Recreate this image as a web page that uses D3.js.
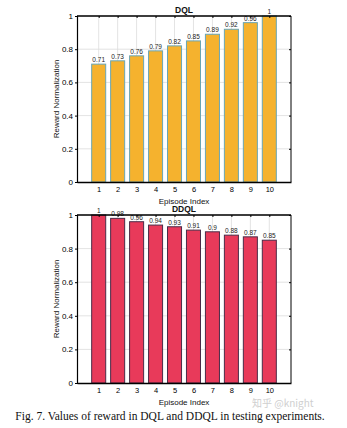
<!DOCTYPE html>
<html>
<head>
<meta charset="utf-8">
<script src="https://cdn.jsdelivr.net/npm/d3@7"></script>
<style>
  html, body { margin: 0; padding: 0; background: #fff; }
  svg { display: block; }
</style>
</head>
<body>
<script>
// Episode indices and normalized reward per method
const episodes = [1, 2, 3, 4, 5, 6, 7, 8, 9, 10];
const dqlValues = [0.71, 0.73, 0.76, 0.79, 0.82, 0.85, 0.89, 0.92, 0.96, 1];
const ddqlValues = [1, 0.98, 0.96, 0.94, 0.93, 0.91, 0.9, 0.88, 0.87, 0.85];
const yTicks = [0, 0.2, 0.4, 0.6, 0.8, 1];

const W = 347, H = 428;
const svg = d3.select("body").append("svg").attr("width", W).attr("height", H);
const font = "'Liberation Sans', Arial, sans-serif";

function panel(opts) {
  const { top, bottom, left, right, values, title, fill, stroke } = opts;
  const x = d3.scaleLinear().domain([-0.144, 11.144]).range([left, right]);
  const y = d3.scaleLinear().domain([0, 1]).range([bottom, top]);
  const g = svg.append("g");
  const step = x(2) - x(1);
  const bw = step * 0.74;

  // grid
  g.selectAll(".hg").data(yTicks.slice(1)).enter().append("line")
    .attr("x1", left).attr("x2", right)
    .attr("y1", d => y(d)).attr("y2", d => y(d))
    .attr("stroke", "#dcdcdc").attr("stroke-width", 0.8);
  g.selectAll(".vg").data(episodes).enter().append("line")
    .attr("x1", d => x(d)).attr("x2", d => x(d))
    .attr("y1", top).attr("y2", bottom)
    .attr("stroke", "#dcdcdc").attr("stroke-width", 0.8);

  // bars
  g.selectAll(".bar").data(values).enter().append("rect")
    .attr("x", (d, i) => x(episodes[i]) - bw / 2)
    .attr("y", d => y(d))
    .attr("width", bw)
    .attr("height", d => y(0) - y(d))
    .attr("fill", fill)
    .attr("stroke", stroke)
    .attr("stroke-width", 1);

  // value labels
  g.selectAll(".lbl").data(values).enter().append("text")
    .attr("x", (d, i) => x(episodes[i]))
    .attr("y", d => y(d) - 2)
    .attr("text-anchor", "middle")
    .attr("font-family", font)
    .attr("font-size", 6.5)
    .attr("fill", "#222")
    .text(d => d);

  // frame: left/bottom axes, top and right borders
  g.append("line").attr("x1", left).attr("x2", right).attr("y1", top).attr("y2", top)
    .attr("stroke", "#000").attr("stroke-width", 1.4);
  g.append("line").attr("x1", right).attr("x2", right).attr("y1", top).attr("y2", bottom)
    .attr("stroke", "#000").attr("stroke-width", 1);

  const yAxis = d3.axisLeft(y).tickValues(yTicks).tickSize(2).tickFormat(d3.format("~g"));
  const ya = g.append("g").attr("transform", `translate(${left},0)`).call(yAxis);
  ya.select(".domain").attr("stroke-width", 1.2);
  ya.selectAll("text").attr("font-family", font).attr("font-size", 8).attr("x", -4);

  const yAxisR = d3.axisLeft(y).tickValues(yTicks).tickSize(2).tickFormat("");
  svg.append("g").attr("transform", `translate(${right},0)`).call(yAxisR).select(".domain").remove();

  const xAxis = d3.axisBottom(x).tickValues(episodes).tickSize(0).tickFormat(d3.format("d"));
  const xa = g.append("g").attr("transform", `translate(0,${bottom})`).call(xAxis);
  xa.select(".domain").attr("stroke-width", 1.4);
  xa.selectAll("text").attr("font-family", font).attr("font-size", 7.5).attr("dy", "0.71em").attr("y", 5);

  const xTop = d3.axisBottom(x).tickValues(episodes).tickSize(2).tickFormat("");
  g.append("g").attr("transform", `translate(0,${top})`).call(xTop).select(".domain").remove();

  // titles
  g.append("text").attr("x", (left + right) / 2).attr("y", top - 3)
    .attr("text-anchor", "middle").attr("font-family", font).attr("font-size", 8.5)
    .attr("font-weight", "bold").attr("fill", "#111").text(title);
  g.append("text").attr("x", (left + right) / 2).attr("y", bottom + 21.5)
    .attr("text-anchor", "middle").attr("font-family", font).attr("font-size", 8)
    .attr("fill", "#111").text("Episode Index");
  g.append("text")
    .attr("transform", `translate(${left - 18},${(top + bottom) / 2}) rotate(-90)`)
    .attr("text-anchor", "middle").attr("font-family", font).attr("font-size", 8)
    .attr("fill", "#111").text("Reward Normalization");
}

panel({ top: 16, bottom: 182, left: 77, right: 291, values: dqlValues, title: "DQL",
        fill: "#f5b22e", stroke: "#6aa6b4" });
panel({ top: 215, bottom: 383, left: 77, right: 291, values: ddqlValues, title: "DDQL",
        fill: "#e83a5a", stroke: "#4b2c48" });

// watermark
svg.append("text").attr("x", 252).attr("y", 407)
  .attr("font-family", "'Noto Sans CJK SC', sans-serif").attr("font-size", 10)
  .attr("fill", "#cfcfcf").text("知乎 @knight");

// caption
svg.append("text").attr("x", 170).attr("y", 420)
  .attr("text-anchor", "middle")
  .attr("font-family", "'Liberation Serif', 'Times New Roman', serif")
  .attr("font-size", 11.5).attr("fill", "#111")
  .text("Fig. 7. Values of reward in DQL and DDQL in testing experiments.");
</script>
</body>
</html>
